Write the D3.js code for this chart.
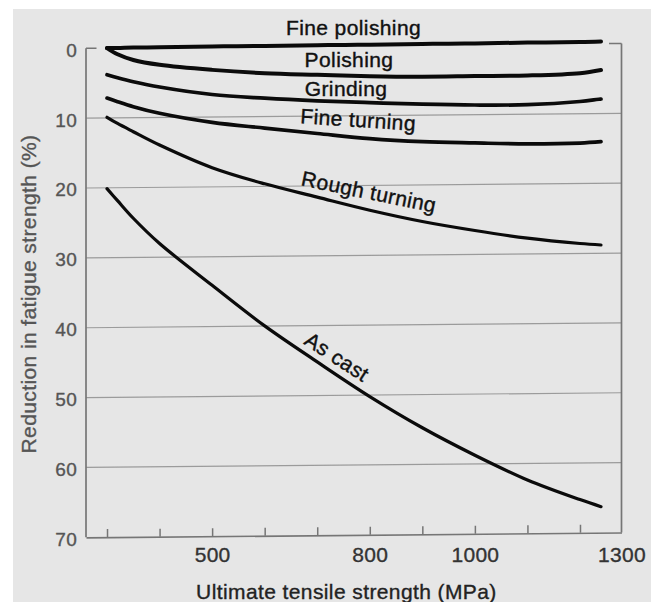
<!DOCTYPE html>
<html>
<head>
<meta charset="utf-8">
<script src="https://cdn.jsdelivr.net/npm/d3@7"></script>
<style>
  html, body { margin: 0; padding: 0; background: #ffffff; }
  svg { display: block; }
  text { font-family: "Liberation Sans", Arial, Helvetica, sans-serif; }
</style>
</head>
<body>
<svg id="chart" width="651" height="602"></svg>
<script>
// ---------------- data ----------------
const tensile = [300, 320, 350, 400, 500, 600, 700, 800, 900, 1000, 1100, 1200, 1240]; // MPa

const finePolishing = [0, 0, -0.05, -0.05, -0.1, -0.1, -0.15, -0.15, -0.2, -0.2, -0.25, -0.25, -0.3];
const polishing     = [0, 0.9, 1.73, 2.46, 3.25, 3.79, 4.09, 4.36, 4.5, 4.48, 4.46, 4.2, 3.77];
const grinding      = [3.81, 4.25, 4.84, 5.64, 6.78, 7.37, 7.81, 8.14, 8.43, 8.62, 8.64, 8.25, 7.92];
const fineTurning   = [7.15, 7.68, 8.42, 9.4, 10.77, 11.65, 12.49, 13.3, 13.8, 14.05, 14.25, 14.2, 14.03];
const roughTurning  = [9.9, 10.8, 12.0, 13.94, 17.25, 19.63, 21.6, 23.54, 25.22, 26.58, 27.75, 28.58, 28.82];
const asCast        = [20.12, 21.85, 24.39, 28.04, 34.09, 39.97, 45.19, 50.22, 54.75, 58.75, 62.36, 65.24, 66.28];

const seriesNames  = ["Fine polishing", "Polishing", "Grinding", "Fine turning", "Rough turning", "As cast"];
const seriesValues = [finePolishing, polishing, grinding, fineTurning, roughTurning, asCast];

const xMinorTicks = [300, 400, 500, 600, 700, 800, 900, 1000, 1100, 1200];
const xTickLabels = [500, 800, 1000, 1300];
const yTickValues = [0, 10, 20, 30, 40, 50, 60, 70];
const yGridValues = [10, 20, 30, 40, 50, 60];

const xTitle = "Ultimate tensile strength (MPa)";
const yTitle = "Reduction in fatigue strength (%)";

// ---------------- layout / style ----------------
const W = 651, H = 602;
const mLeft = 86, mRight = 621.5, mTop = 48.3, mBottom = 537.3;
const skewDeg = -Math.atan(0.009) * 180 / Math.PI; // slight tilt of the scanned grid

const svg = d3.select("#chart");

// paper background
svg.append("rect").attr("x", 0).attr("y", 0).attr("width", W).attr("height", H).attr("fill", "#ffffff");
svg.append("rect").attr("x", 13).attr("y", 9).attr("width", W - 13).attr("height", H - 9).attr("fill", "#e6e6e6");

const x = d3.scaleLinear().domain([260, 1279]).range([mLeft, mRight]).clamp(true);
const y = d3.scaleLinear().domain([0, 70]).range([mTop, mBottom]);

const plot = svg.append("g")
  .attr("transform", `translate(${mLeft},0) skewY(${skewDeg}) translate(${-mLeft},0)`);

// grid lines
plot.append("g").selectAll("line").data(yGridValues).join("line")
  .attr("x1", mLeft).attr("x2", mRight)
  .attr("y1", d => y(d)).attr("y2", d => y(d))
  .attr("stroke", "#9b9b9b").attr("stroke-width", 1.2);

// left axis line + top stub
plot.append("line").attr("x1", mLeft).attr("x2", mLeft).attr("y1", y(0)).attr("y2", y(70))
  .attr("stroke", "#767676").attr("stroke-width", 1.7);
plot.append("line").attr("x1", mLeft).attr("x2", mLeft + 10.5).attr("y1", y(0)).attr("y2", y(0))
  .attr("stroke", "#767676").attr("stroke-width", 1.5);

// right border + top stub
plot.append("line").attr("x1", mRight).attr("x2", mRight).attr("y1", y(0)).attr("y2", y(70))
  .attr("stroke", "#767676").attr("stroke-width", 1.7);
plot.append("line").attr("x1", mRight - 12.5).attr("x2", mRight).attr("y1", y(0)).attr("y2", y(0))
  .attr("stroke", "#767676").attr("stroke-width", 1.5);

// bottom axis with inward ticks
const xAxis = plot.append("g").attr("transform", `translate(0,${mBottom})`)
  .call(d3.axisBottom(x).tickValues(xMinorTicks).tickSize(-8).tickSizeOuter(0).tickFormat(""));
xAxis.select(".domain").attr("stroke", "#767676").attr("stroke-width", 1.7);
xAxis.selectAll(".tick line").attr("stroke", "#767676").attr("stroke-width", 1.5);

// curves
const line = d3.line()
  .x((d, i) => x(tensile[i]))
  .y(d => y(d))
  .curve(d3.curveCatmullRom.alpha(0.5));
const widths = [4, 4, 3.7, 3.7, 3.2, 3.2];
plot.append("g").selectAll("path").data(seriesValues).join("path")
  .attr("d", d => line(d))
  .attr("fill", "none")
  .attr("stroke", "#0b0b0b")
  .attr("stroke-width", (d, i) => widths[i])
  .attr("stroke-linecap", "round")
  .attr("stroke-linejoin", "round");

// bottom tick labels (unskewed)
const xLab = svg.append("g").attr("transform", `translate(0,${mBottom - 1.5})`)
  .call(d3.axisBottom(x).tickValues(xTickLabels).tickSize(0).tickPadding(10.8).tickFormat(d3.format("d")));
xLab.select(".domain").remove();
xLab.selectAll("text")
  .attr("font-family", "'Liberation Sans', Arial, sans-serif")
  .attr("font-size", 21).attr("fill", "#333").attr("stroke", "#333").attr("stroke-width", 0.35)
  .attr("letter-spacing", "0.3px");

// left tick labels (not skewed)
const yAx = svg.append("g").attr("transform", `translate(${mLeft},0)`)
  .call(d3.axisLeft(y).tickValues(yTickValues).tickSize(0).tickPadding(9));
yAx.select(".domain").remove();
yAx.selectAll("text")
  .attr("font-family", "'Liberation Sans', Arial, sans-serif")
  .attr("font-size", 19).attr("fill", "#555").attr("stroke", "#555").attr("stroke-width", 0.35)
  .attr("dy", "0.42em").attr("letter-spacing", "0.3px");

// curve labels
const labelPos = [
  { x: 353.5, y: 35, r: 0 },
  { x: 349, y: 66.7, r: 0 },
  { x: 346, y: 96, r: 0 },
  { x: 357.7, y: 127, r: 3.7 },
  { x: 367.5, y: 199, r: 11.5 },
  { x: 333, y: 363, r: 33 }
];
svg.append("g").selectAll("text").data(seriesNames).join("text")
  .attr("transform", (d, i) => `translate(${labelPos[i].x},${labelPos[i].y}) rotate(${labelPos[i].r})`)
  .attr("text-anchor", "middle")
  .attr("font-size", 21)
  .attr("letter-spacing", "0.4px")
  .attr("fill", "#111").attr("stroke", "#111").attr("stroke-width", 0.4)
  .text(d => d);

// axis titles
svg.append("text")
  .attr("x", 346.4).attr("y", 599)
  .attr("text-anchor", "middle").attr("font-size", 21).attr("letter-spacing", "0.4px")
  .attr("fill", "#222").attr("stroke", "#222").attr("stroke-width", 0.35).text(xTitle);

svg.append("text")
  .attr("transform", "translate(36,294) rotate(-90)")
  .attr("text-anchor", "middle").attr("font-size", 21).attr("letter-spacing", "0.4px")
  .attr("fill", "#555").attr("stroke", "#555").attr("stroke-width", 0.35).text(yTitle);
</script>
</body>
</html>
